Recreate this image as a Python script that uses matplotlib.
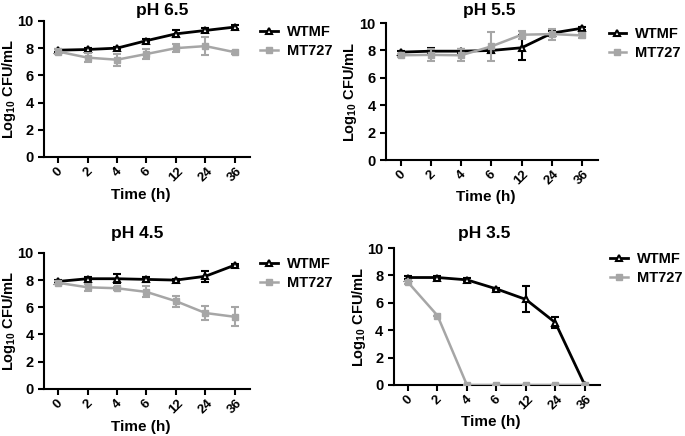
import matplotlib as mpl
mpl.use('Agg')
import matplotlib.pyplot as plt
import numpy as np

mpl.rcParams['font.family'] = ['Liberation Sans', 'DejaVu Sans']
mpl.rcParams['font.weight'] = 'bold'
mpl.rcParams['mathtext.fontset'] = 'custom'
mpl.rcParams['mathtext.rm'] = 'Liberation Sans:bold'
mpl.rcParams['mathtext.bf'] = 'Liberation Sans:bold'
mpl.rcParams['mathtext.default'] = 'bf'

times = ['0', '2', '4', '6', '12', '24', '36']
titles = ['pH 6.5', 'pH 5.5', 'pH 4.5', 'pH 3.5']

# WTMF means / SEM per panel
wt_mean = [
    [7.85, 7.9, 8.0, 8.55, 9.05, 9.3, 9.55],
    [7.88, 7.95, 7.95, 8.0, 8.2, 9.27, 9.63],
    [7.9, 8.1, 8.1, 8.05, 8.0, 8.28, 9.1],
    [7.85, 7.85, 7.68, 7.02, 6.25, 4.56, 0.0],
]
wt_err = [
    [0.1, 0.1, 0.1, 0.1, 0.25, 0.15, 0.15],
    [0.1, 0.2, 0.15, 0.2, 0.9, 0.15, 0.1],
    [0.1, 0.1, 0.35, 0.2, 0.1, 0.4, 0.1],
    [0.1, 0.1, 0.1, 0.1, 0.95, 0.4, 0.0],
]
# MT727 means / SEM per panel
mt_mean = [
    [7.75, 7.3, 7.15, 7.57, 8.0, 8.15, 7.7],
    [7.65, 7.68, 7.65, 8.3, 9.15, 9.2, 9.1],
    [7.8, 7.47, 7.4, 7.13, 6.45, 5.58, 5.3],
    [7.5, 5.07, 0.0, 0.0, 0.0, 0.0, 0.0],
]
mt_err = [
    [0.15, 0.35, 0.45, 0.35, 0.3, 0.65, 0.1],
    [0.1, 0.45, 0.45, 1.05, 0.3, 0.4, 0.2],
    [0.1, 0.25, 0.1, 0.4, 0.4, 0.55, 0.7],
    [0.1, 0.0, 0.0, 0.0, 0.0, 0.0, 0.0],
]

# axes rectangles [left, bottom, width, height] in figure fraction
rects = [
    [0.0642, 0.640, 0.301, 0.312],
    [0.5635, 0.633, 0.3095, 0.314],
    [0.0642, 0.108, 0.301, 0.312],
    [0.575, 0.117, 0.301, 0.314],
]
title_pos = [(0.237, 0.977), (0.714, 0.977), (0.200, 0.465), (0.707, 0.465)]
xlab_y = [-0.225, -0.22, -0.225, -0.22]

gray = '#a6a6a6'
fig = plt.figure(figsize=(6.85, 4.36), dpi=100)

for i in range(4):
    ax = fig.add_axes(rects[i])
    x = np.arange(len(times))
    ax.errorbar(x, wt_mean[i], yerr=wt_err[i], fmt='none', ecolor='black',
                capsize=3, elinewidth=1.5, capthick=1.5, zorder=3)
    ax.plot(x, wt_mean[i], color='black', lw=2, marker='^', ms=5,
            mfc='white', mec='black', mew=1.5, label='WTMF', zorder=3)
    ax.errorbar(x, mt_mean[i], yerr=mt_err[i], fmt='none', ecolor=gray,
                capsize=3, elinewidth=1.5, capthick=1.5, zorder=4)
    ax.plot(x, mt_mean[i], color=gray, lw=1.8, marker='s', ms=4.5,
            label='MT727', zorder=4)
    ax.set_xlim(-0.48, 6.52)
    ax.set_ylim(0, 10)
    ax.set_yticks([0, 2, 4, 6, 8, 10])
    ax.set_xticks(x)
    ax.set_xticklabels(times, rotation=45)
    for s in ['top', 'right']:
        ax.spines[s].set_visible(False)
    for s in ['left', 'bottom']:
        ax.spines[s].set_linewidth(1.5)
    ax.tick_params(width=1.5, length=4)
    ax.tick_params(axis='y', labelsize=10.5)
    ax.tick_params(axis='x', labelsize=9.5, pad=2)
    ax.set_ylabel('Log$_{10}$ CFU/mL', fontsize=10.5, fontweight='bold')
    ax.yaxis.set_label_coords(-0.125, 0.5)
    ax.set_xlabel('Time (h)', fontsize=11, fontweight='bold')
    ax.xaxis.set_label_coords(0.47, xlab_y[i])
    fig.text(title_pos[i][0], title_pos[i][1], titles[i], fontsize=12.5,
             fontweight='bold', ha='center', va='center')
    ax.legend(loc='upper left', bbox_to_anchor=(1.05, 0.97), frameon=False,
              fontsize=10.5, borderpad=0, borderaxespad=0, handlelength=1.2,
              handletextpad=0.6, labelspacing=0.35)

plt.savefig('out.png', dpi=100)
